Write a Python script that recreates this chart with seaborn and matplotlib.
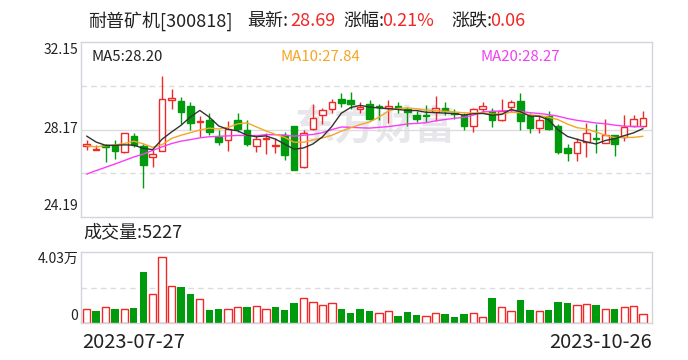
import numpy as np
import pandas as pd
import matplotlib
matplotlib.use("Agg")
import matplotlib.pyplot as plt
from matplotlib.colors import to_hex
import seaborn as sns

# ---------------- data ----------------
opens = [27.42, 27.25, 27.47, 27.46, 27.15, 27.87, 27.43, 26.90, 27.21, 29.51,
         29.46, 29.23, 28.49, 28.59, 27.82, 27.67, 28.62, 28.14, 27.44, 27.74,
         27.41, 27.91, 28.32, 26.47, 28.20, 28.85, 29.12, 29.58, 29.49, 29.08,
         29.32, 29.23, 29.15, 29.23, 29.12, 28.85, 28.82, 28.97, 29.17, 28.90,
         28.82, 28.35, 29.11, 28.99, 28.61, 29.20, 29.46, 28.78, 28.24, 28.78,
         28.32, 27.35, 27.08, 27.61, 27.80, 27.56, 27.94, 27.84, 28.32, 28.32]
closes = [27.53, 27.28, 27.36, 27.20, 27.99, 27.46, 26.56, 27.06, 29.58, 29.62,
          28.97, 28.47, 28.55, 28.06, 27.61, 28.17, 28.18, 27.52, 27.73, 27.80,
          27.45, 27.03, 26.35, 28.03, 28.71, 29.05, 29.40, 29.36, 29.33, 29.20,
          28.67, 29.18, 29.22, 29.14, 28.97, 28.65, 28.78, 29.17, 29.00, 28.87,
          28.32, 29.08, 29.23, 28.62, 29.03, 29.44, 28.56, 28.24, 28.59, 28.20,
          27.15, 27.08, 27.61, 27.99, 27.73, 27.94, 27.50, 28.29, 28.63, 28.69]
highs = [27.68, 27.45, 27.49, 27.71, 27.99, 28.00, 27.49, 27.23, 30.59, 30.03,
         29.65, 29.43, 28.78, 28.93, 28.14, 28.56, 28.93, 28.59, 27.91, 27.99,
         27.80, 28.06, 28.32, 28.17, 29.32, 29.17, 29.58, 29.84, 29.88, 29.40,
         29.53, 29.35, 29.50, 29.43, 29.20, 29.02, 29.27, 29.68, 29.40, 29.08,
         28.90, 29.17, 29.40, 29.17, 29.58, 29.53, 29.81, 28.90, 28.78, 29.02,
         28.41, 27.53, 27.80, 28.47, 28.41, 28.64, 27.94, 28.82, 28.82, 28.99]
lows = [27.22, 27.22, 26.70, 26.85, 27.11, 27.38, 25.49, 26.47, 27.21, 29.12,
        28.44, 28.14, 27.81, 27.91, 27.46, 27.20, 28.06, 27.41, 27.15, 27.05,
        27.08, 26.77, 26.32, 26.44, 28.14, 28.41, 28.90, 29.20, 29.12, 28.90,
        28.59, 28.62, 28.47, 28.93, 28.32, 28.50, 28.52, 28.56, 28.82, 28.67,
        28.17, 28.06, 28.90, 28.29, 28.55, 28.97, 28.14, 28.02, 27.99, 28.14,
        27.05, 26.73, 26.74, 26.93, 27.11, 27.56, 26.96, 27.65, 28.29, 28.29]
# volume in units of 万
volumes = [0.82, 0.66, 0.88, 0.79, 0.82, 0.84, 2.91, 1.65, 3.75, 2.12,
           2.06, 1.67, 1.39, 0.71, 0.79, 0.77, 0.88, 0.88, 0.94, 0.82,
           0.88, 0.71, 1.11, 1.42, 1.20, 1.03, 1.14, 0.82, 0.54, 0.77,
           0.66, 0.58, 0.69, 0.37, 0.60, 0.43, 0.41, 0.58, 0.49, 0.32,
           0.49, 0.58, 0.36, 1.44, 0.92, 0.69, 1.33, 0.71, 0.69, 0.71,
           1.22, 1.11, 1.03, 1.09, 1.05, 0.77, 0.82, 0.92, 0.97, 0.5227]
# moving-average values at the left edge (window not complete)
ma5_head = [27.87, 27.60, 27.45, 27.45]
ma10_head = [27.43, 27.38, 27.43, 27.47, 27.53, 27.64, 27.52, 27.36, 27.48]
ma20_head = [26.14, 26.30, 26.45, 26.60, 26.76, 26.92, 27.05, 27.22, 27.38, 27.53,
             27.64, 27.71, 27.79, 27.84, 27.86, 27.88, 27.90, 27.90, 27.89]

stock_name = "耐普矿机[300818]"
latest = "28.69"
change_pct = "0.21%"
change_amt = "0.06"
ma_labels = ["MA5:28.20", "MA10:27.84", "MA20:28.27"]
vol_label = "成交量:5227"
price_ticks = ["32.15", "28.17", "24.19"]
price_lo, price_hi = 24.19, 32.15
vol_top = 4.03
vol_ticks = ["4.03万", "0"]
date_labels = ["2023-07-27", "2023-10-26"]

# ---------------- style ----------------
RED = "#f02828"
GREEN = "#009b0c"
TXT = "#222222"
BORDER = "#d4d4dc"
GRID = "#dcdcdc"
MA_COLORS = ["#333333", "#f5a623", "#fb3cf7"]

sns.set_theme(style="white")
plt.rcParams["font.family"] = ["Noto Sans CJK SC", "DejaVu Sans"]

W, H = 688, 360
fig = plt.figure(figsize=(W / 100, H / 100), dpi=100)
fig.patch.set_facecolor("white")


def fx(x):
    return x / W


def fy(y):
    return 1 - y / H


axp = fig.add_axes([fx(81), fy(217), fx(571), 175 / H])
axv = fig.add_axes([fx(81), fy(323), fx(571), 71 / H])

n = len(closes)
x = np.arange(n)
o = np.array(opens)
c = np.array(closes)
h = np.array(highs)
l = np.array(lows)
up = c >= o

# watermark
axp.text(0.515, 0.51, "东方财富", transform=axp.transAxes, fontsize=29,
         color="#e7e7eb", fontweight="bold", ha="center", va="center", zorder=0)

# grid lines
axp.axhline((price_lo + price_hi) / 2, color=GRID, lw=1, zorder=1)
for q in (0.25, 0.75):
    axp.axhline(price_lo + q * (price_hi - price_lo), color=GRID, lw=1,
                ls=(0, (4, 3)), zorder=1)
axv.axhline(vol_top / 2, color=GRID, lw=1, ls=(0, (4, 3)), zorder=0)

# candles
body_lo = np.minimum(o, c)
body_hi = np.maximum(o, c)
col = np.where(up, RED, GREEN)
axp.vlines(x, l, body_lo, colors=col, lw=1, zorder=3)
axp.vlines(x, body_hi, h, colors=col, lw=1, zorder=3)
axp.bar(x, np.maximum(body_hi - body_lo, 0.02), bottom=body_lo, width=0.7,
        color=np.where(up, "white", GREEN), edgecolor=col, linewidth=1, zorder=4)

# moving averages
s = pd.Series(closes)
ma5 = s.rolling(5).mean().to_numpy()
ma10 = s.rolling(10).mean().to_numpy()
ma20 = s.rolling(20).mean().to_numpy()
ma5[:len(ma5_head)] = ma5_head
ma10[:len(ma10_head)] = ma10_head
ma20[:len(ma20_head)] = ma20_head
for vals, colr in zip([ma20, ma10, ma5], MA_COLORS[::-1]):
    sns.lineplot(x=x, y=vals, color=colr, lw=1, ax=axp, zorder=5)

axp.set_xlim(-0.6, n - 0.05)
axp.set_ylim(price_lo, price_hi)

# volume
prev = np.r_[c[0] - 1, c[:-1]]
vol_up = c >= prev
dfv = pd.DataFrame({"i": x, "vol": volumes, "dir": np.where(vol_up, "up", "down")})
sns.barplot(data=dfv, x="i", y="vol", hue="dir", palette={"up": RED, "down": GREEN},
            dodge=False, native_scale=True, width=0.78, legend=False, errorbar=None,
            saturation=1, ax=axv)
for p in axv.patches:
    if to_hex(p.get_facecolor()) == to_hex(RED):
        p.set_facecolor("white")
        p.set_edgecolor(RED)
        p.set_linewidth(1)
    else:
        p.set_linewidth(0)
axv.set_xlim(-0.6, n - 0.05)
axv.set_ylim(0, vol_top)

for ax in (axp, axv):
    ax.set_xticks([])
    ax.set_yticks([])
    ax.set_xlabel("")
    ax.set_ylabel("")
    for sp in ax.spines.values():
        sp.set_color(BORDER)
        sp.set_linewidth(1)
    ax.set_facecolor("white")

# ---------------- texts ----------------
ty = fy(21)
TS = 13
fig.text(fx(88), ty, stock_name, fontsize=TS, color=TXT, va="center")
fig.text(fx(247), ty, "最新:", fontsize=TS, color=TXT, va="center")
fig.text(fx(290), ty, latest, fontsize=TS, color=RED, va="center")
fig.text(fx(343), ty, "涨幅:", fontsize=TS, color=TXT, va="center")
fig.text(fx(382), ty, change_pct, fontsize=TS, color=RED, va="center")
fig.text(fx(451), ty, "涨跌:", fontsize=TS, color=TXT, va="center")
fig.text(fx(490), ty, change_amt, fontsize=TS, color=RED, va="center")

for lab, xpos, colr in zip(ma_labels, [91, 280, 480], ["#222222", "#f5a623", "#f040f0"]):
    fig.text(fx(xpos), fy(57), lab, fontsize=10.8, color=colr, va="center")

for lab, ypos in zip(price_ticks, [50, 129, 206]):
    fig.text(fx(78), fy(ypos), lab, fontsize=10, color=TXT, va="center", ha="right")

fig.text(fx(83), fy(232), vol_label, fontsize=13, color=TXT, va="center")
fig.text(fx(78), fy(259), vol_ticks[0], fontsize=10, color=TXT, va="center", ha="right")
fig.text(fx(78), fy(316), vol_ticks[1], fontsize=10, color=TXT, va="center", ha="right")

fig.text(fx(82), fy(342), date_labels[0], fontsize=14.5, color=TXT, va="center", ha="left")
fig.text(fx(652), fy(342), date_labels[1], fontsize=14.5, color=TXT, va="center", ha="right")

fig.savefig("out.png", dpi=100, facecolor="white")
